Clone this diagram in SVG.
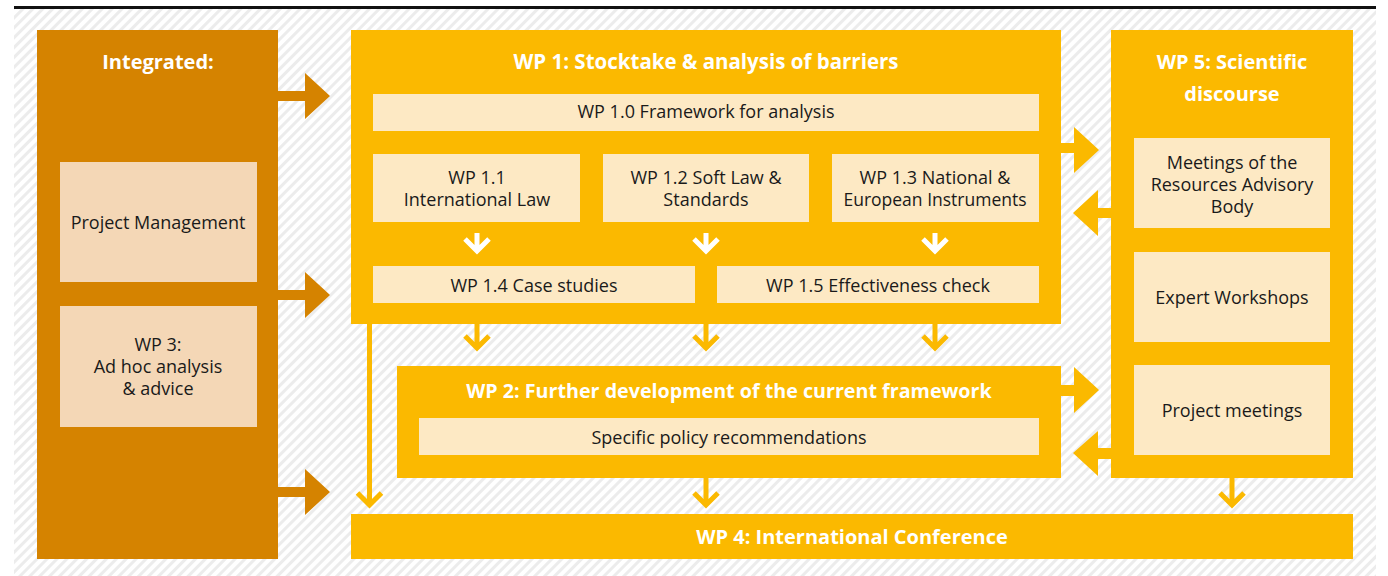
<svg xmlns="http://www.w3.org/2000/svg" width="1388" height="576" viewBox="0 0 1388 576">
<defs>
<pattern id="hatch" patternUnits="userSpaceOnUse" width="7" height="7" patternTransform="rotate(45)">
<rect width="7" height="7" fill="#ffffff"/>
<rect width="3" height="7" fill="#ececec"/>
</pattern>
<style>
.dark{fill:#D58300}
.yel{fill:#FBB900}
.lt{fill:#FDE9C4}
.ltd{fill:#F4D7B6}
.t{font-family:"Open Sans","Noto Sans","Liberation Sans",sans-serif;font-size:18px;fill:#1a1a1a;text-anchor:middle}
.h{font-family:"Open Sans","Noto Sans","Liberation Sans",sans-serif;font-size:20px;font-weight:bold;fill:#ffffff;text-anchor:middle}
.ya{fill:none;stroke:#FBB900;stroke-width:5}
.wa{fill:none;stroke:#ffffff;stroke-width:5}
</style>
</defs>
<rect x="14" y="9" width="1362" height="567" fill="url(#hatch)"/>
<rect x="14" y="6" width="1362" height="3" fill="#111"/>

<g id="integrated">
<rect class="dark" x="37" y="30" width="241" height="529"/>
<text class="h" x="158" y="69">Integrated:</text>
</g>
<g id="project-management">
<rect class="ltd" x="60" y="162" width="197" height="120"/>
<text class="t" x="158" y="229">Project Management</text>
</g>
<g id="wp3">
<rect class="ltd" x="60" y="306" width="197" height="121"/>
<text class="t" x="158" y="351">WP 3:</text>
<text class="t" x="158" y="373">Ad hoc analysis</text>
<text class="t" x="158" y="395">&amp; advice</text>
</g>

<g id="wp1">
<rect class="yel" x="351" y="30" width="710" height="294"/>
<text class="h" x="706" y="69" style="font-size:20.5px">WP 1: Stocktake &amp; analysis of barriers</text>
</g>
<g id="wp1-0">
<rect class="lt" x="373" y="94" width="666" height="37"/>
<text class="t" x="706" y="118">WP 1.0 Framework for analysis</text>
</g>
<g id="wp1-1">
<rect class="lt" x="373" y="154" width="207" height="68"/>
<text class="t" x="477" y="184">WP 1.1</text>
<text class="t" x="477" y="206">International Law</text>
</g>
<g id="wp1-2">
<rect class="lt" x="603" y="154" width="206" height="68"/>
<text class="t" x="706" y="184">WP 1.2 Soft Law &amp;</text>
<text class="t" x="706" y="206">Standards</text>
</g>
<g id="wp1-3">
<rect class="lt" x="832" y="154" width="207" height="68"/>
<text class="t" x="935" y="184">WP 1.3 National &amp;</text>
<text class="t" x="935" y="206" style="font-size:17.5px">European Instruments</text>
</g>
<g id="wp1-4">
<rect class="lt" x="373" y="266" width="322" height="37"/>
<text class="t" x="534" y="292">WP 1.4 Case studies</text>
</g>
<g id="wp1-5">
<rect class="lt" x="717" y="266" width="322" height="37"/>
<text class="t" x="878" y="292">WP 1.5 Effectiveness check</text>
</g>

<g id="wp2">
<rect class="yel" x="397" y="366" width="664" height="112"/>
<text class="h" x="729" y="398" style="font-size:19.7px">WP 2: Further development of the current framework</text>
</g>
<g id="wp2-policy">
<rect class="lt" x="419" y="418" width="620" height="37"/>
<text class="t" x="729" y="444">Specific policy recommendations</text>
</g>

<g id="wp5">
<rect class="yel" x="1111" y="30" width="242" height="448"/>
<text class="h" x="1232" y="69">WP 5: Scientific</text>
<text class="h" x="1232" y="101">discourse</text>
</g>
<g id="wp5-rab">
<rect class="lt" x="1134" y="138" width="196" height="90"/>
<text class="t" x="1232" y="169">Meetings of the</text>
<text class="t" x="1232" y="191">Resources Advisory</text>
<text class="t" x="1232" y="213">Body</text>
</g>
<g id="wp5-expert">
<rect class="lt" x="1134" y="252" width="196" height="90"/>
<text class="t" x="1232" y="304">Expert Workshops</text>
</g>
<g id="wp5-project">
<rect class="lt" x="1134" y="365" width="196" height="90"/>
<text class="t" x="1232" y="417">Project meetings</text>
</g>

<g id="wp4">
<rect class="yel" x="351" y="514" width="1002" height="45"/>
<text class="h" x="852" y="544">WP 4: International Conference</text>
</g>

<g id="connectors">
<path class="dark" d="M278,91 H305 V73 L330,96 L305,119 V101 H278 Z"/>
<path class="dark" d="M278,290 H305 V272 L330,295 L305,318 V300 H278 Z"/>
<path class="dark" d="M278,487 H305 V469 L330,492 L305,515 V497 H278 Z"/>
<path class="yel" d="M1061,143 H1074 V127 L1099,150 L1074,173 V153 H1061 Z"/>
<path class="yel" d="M1111,208 H1098 V190 L1073,213 L1098,236 V218 H1111 Z"/>
<path class="yel" d="M1061,385 H1074 V367 L1099,390 L1074,413 V396 H1061 Z"/>
<path class="yel" d="M1111,448 H1098 V431 L1073,453 L1098,476 V459 H1111 Z"/>
<path class="wa" d="M477,233 V252 M465,239 L477,251 L489,239"/>
<path class="wa" d="M706,233 V252 M694,239 L706,251 L718,239"/>
<path class="wa" d="M935,233 V252 M923,239 L935,251 L947,239"/>
<path class="ya" d="M477,324 V348 M465,336 L477,348 L489,336"/>
<path class="ya" d="M706,324 V348 M694,336 L706,348 L718,336"/>
<path class="ya" d="M935,324 V348 M923,336 L935,348 L947,336"/>
<path class="ya" d="M369.5,324 V505 M357.5,493 L369.5,505 L381.5,493"/>
<path class="ya" d="M706,478 V505 M694,493 L706,505 L718,493"/>
<path class="ya" d="M1232,478 V505 M1220,493 L1232,505 L1244,493"/>
</g>
</svg>
